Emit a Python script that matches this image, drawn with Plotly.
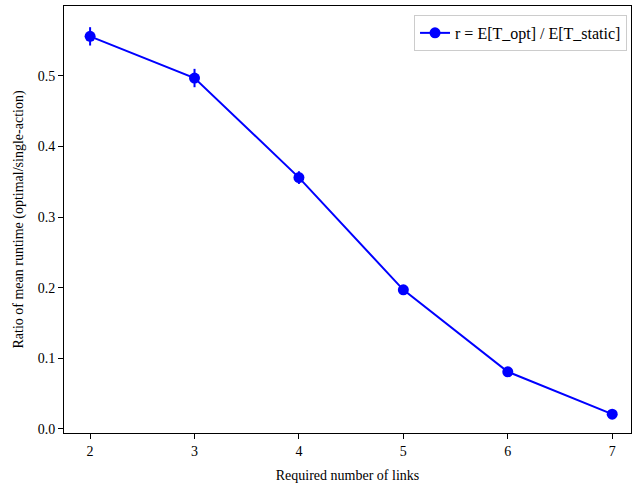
import plotly.graph_objects as go

links = [2, 3, 4, 5, 6, 7]
ratio = [0.556, 0.497, 0.356, 0.197, 0.081, 0.021]
err = [0.013, 0.013, 0.009, 0.004, 0.003, 0.002]

fig = go.Figure()
fig.add_trace(go.Scatter(
    x=links, y=ratio, mode="lines+markers",
    name="r = E[T_opt] / E[T_static]",
    line=dict(color="#0000ff", width=2),
    marker=dict(color="#0000ff", size=11),
    error_y=dict(type="data", array=err, color="#0000ff", thickness=2, width=0),
))

axis_common = dict(
    showline=True, linecolor="black", linewidth=1, mirror=True,
    ticks="outside", ticklen=5, tickcolor="black", tickwidth=1,
    showgrid=False, zeroline=False,
    tickfont=dict(family="Liberation Serif", size=14, color="black"),
)
fig.update_xaxes(range=[1.75, 7.18], tickvals=links,
                 title=dict(text="Required number of links", standoff=12,
                            font=dict(family="Liberation Serif", size=14, color="black")),
                 **axis_common)
fig.update_yaxes(range=[-0.0057, 0.599], tickvals=[0.0, 0.1, 0.2, 0.3, 0.4, 0.5],
                 tickformat=".1f",
                 title=dict(text="Ratio of mean runtime (optimal/single-action)", standoff=10,
                            font=dict(family="Liberation Serif", size=14, color="black")),
                 **axis_common)

fig.update_layout(
    width=632, height=487,
    margin=dict(l=64, r=1, t=6, b=54),
    paper_bgcolor="white", plot_bgcolor="white",
    showlegend=True,
    legend=dict(x=0.993, y=0.979, xanchor="right", yanchor="top",
                bgcolor="rgba(255,255,255,0.8)", bordercolor="#cccccc", borderwidth=1,
                font=dict(family="Liberation Serif", size=16, color="black")),
    font=dict(family="Liberation Serif", size=14, color="black"),
)
fig.write_html("out.html", config={"displayModeBar": False},
               post_script="document.body.style.margin='0';")
